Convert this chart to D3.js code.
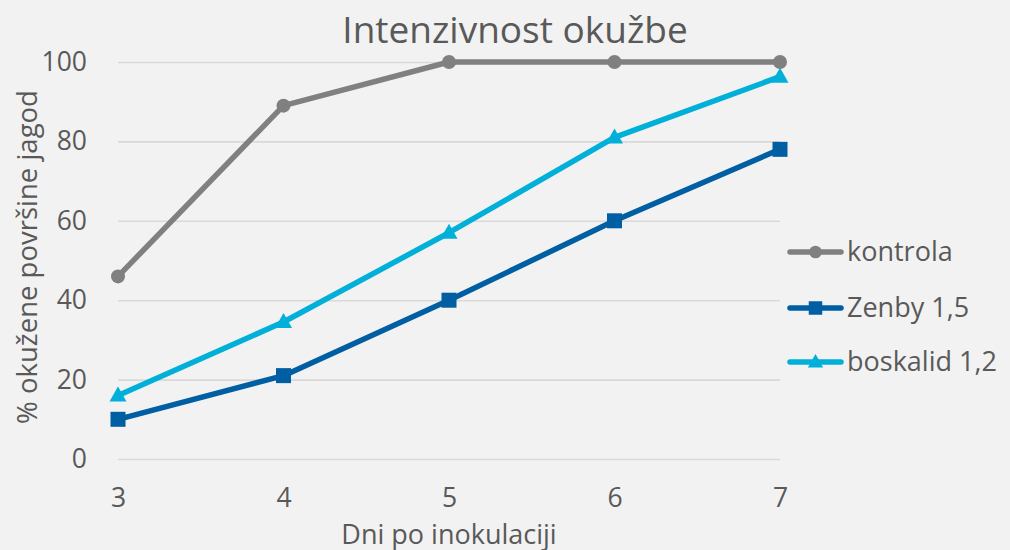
<!DOCTYPE html>
<html>
<head>
<meta charset="utf-8">
<script src="https://cdn.jsdelivr.net/npm/d3@7"></script>
<style>
  html, body { margin: 0; padding: 0; background: #f2f2f2; }
  svg { display: block; font-family: "Open Sans", sans-serif; }
</style>
</head>
<body>
<svg id="chart" width="1010" height="550"></svg>
<script>
// Days after inoculation
const days = [3, 4, 5, 6, 7];
// % of infected strawberry surface per treatment
const kontrola = [46, 89, 100, 100, 100];
const zenby = [10, 21, 40, 60, 78];
const boskalid = [16, 34.5, 57, 81, 96.3];
const yTicks = [0, 20, 40, 60, 80, 100];

const seriesNames = ["kontrola", "Zenby 1,5", "boskalid 1,2"];
const seriesColors = ["#808080", "#005ea2", "#00b0d8"];
const seriesShapes = ["circle", "square", "triangle"];
const seriesValues = [kontrola, zenby, boskalid];

const series = seriesNames.map((name, i) => ({
  name, color: seriesColors[i], shape: seriesShapes[i],
  values: days.map((d, j) => ({ x: d, y: seriesValues[i][j] }))
}));

const svg = d3.select("#chart");
const textColor = "#595959";

const x = d3.scaleLinear().domain([3, 7]).range([118, 780]);
const y = d3.scaleLinear().domain([0, 100]).range([459, 62]);

// Title
svg.append("text")
  .attr("x", 515).attr("y", 43)
  .attr("text-anchor", "middle")
  .attr("font-size", 37)
  .attr("fill", textColor)
  .text("Intenzivnost okužbe");

// Horizontal gridlines
const yAxis = d3.axisLeft(y).tickValues(yTicks).tickFormat(d3.format("d"))
  .tickSize(-(x.range()[1] - x.range()[0])).tickPadding(31);
const gy = svg.append("g").attr("transform", `translate(${x.range()[0]},0)`).call(yAxis);
gy.select(".domain").remove();
gy.selectAll(".tick line").attr("stroke", "#d9d9d9").attr("stroke-width", 1.6);
gy.selectAll(".tick text")
  .attr("font-size", 26.5)
  .attr("fill", textColor)
  .attr("font-family", "Open Sans, sans-serif");

// X axis labels (no axis line)
const xAxis = d3.axisBottom(x).tickValues(days).tickFormat(d3.format("d")).tickSize(0).tickPadding(29);
const gx = svg.append("g").attr("transform", `translate(0,${y(0)})`).call(xAxis);
gx.select(".domain").remove();
gx.selectAll(".tick text")
  .attr("font-size", 26.5)
  .attr("fill", textColor)
  .attr("font-family", "Open Sans, sans-serif");

// Axis titles
svg.append("text")
  .attr("x", 449).attr("y", 544)
  .attr("text-anchor", "middle")
  .attr("font-size", 27)
  .attr("fill", textColor)
  .text("Dni po inokulaciji");

svg.append("text")
  .attr("transform", "translate(37,257) rotate(-90)")
  .attr("text-anchor", "middle")
  .attr("font-size", 27.5)
  .attr("fill", textColor)
  .text("% okužene površine jagod");

// Marker drawing helper
function drawMarker(g, shape, color, cx, cy, scale) {
  const s = scale || 1;
  if (shape === "circle") {
    g.append("circle").attr("cx", cx).attr("cy", cy).attr("r", 7 * s).attr("fill", color);
  } else if (shape === "square") {
    const h = 7.5 * s;
    g.append("rect").attr("x", cx - h).attr("y", cy - h).attr("width", 2 * h).attr("height", 2 * h).attr("fill", color);
  } else {
    const w = 8.5 * s, h = 15 * s;
    g.append("path")
      .attr("d", `M${cx},${cy - h * 0.6}L${cx + w},${cy + h * 0.4}L${cx - w},${cy + h * 0.4}Z`)
      .attr("fill", color);
  }
}

// Lines and markers
const line = d3.line().x(d => x(d.x)).y(d => y(d.y));
series.forEach(s => {
  const g = svg.append("g");
  g.append("path")
    .datum(s.values)
    .attr("d", line)
    .attr("fill", "none")
    .attr("stroke", s.color)
    .attr("stroke-width", 5.5)
    .attr("stroke-linejoin", "round");
  s.values.forEach(v => drawMarker(g, s.shape, s.color, x(v.x), y(v.y), 1));
});

// Legend
const legendY = [252, 308, 362];
series.forEach((s, i) => {
  const g = svg.append("g");
  const ly = legendY[i];
  g.append("line")
    .attr("x1", 790).attr("x2", 841)
    .attr("y1", ly).attr("y2", ly)
    .attr("stroke", s.color).attr("stroke-width", 5.5)
    .attr("stroke-linecap", "round");
  drawMarker(g, s.shape, s.color, 815.5, ly, 0.9);
  g.append("text")
    .attr("x", 847).attr("y", ly + 9)
    .attr("font-size", 27)
    .attr("fill", textColor)
    .text(s.name);
});
</script>
</body>
</html>
